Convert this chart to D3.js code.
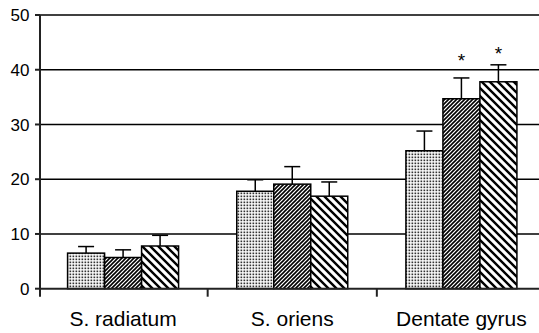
<!DOCTYPE html>
<html>
<head>
<meta charset="utf-8">
<script src="https://cdn.jsdelivr.net/npm/d3@7"></script>
<style>
  html, body { margin: 0; padding: 0; background: #fff; }
  svg { display: block; }
  text { font-family: "Liberation Sans", Arial, sans-serif; fill: #000; }
</style>
</head>
<body>
<svg id="chart" width="539" height="333"></svg>
<script>
// ---- data ----
const categories = ["S. radiatum", "S. oriens", "Dentate gyrus"];
const seriesNames = ["A", "B", "C"];
const seriesValues = [
  [6.5, 17.8, 25.2],   // dotted
  [5.7, 19.1, 34.7],   // fine hatch
  [7.8, 16.9, 37.8]    // wide hatch
];
const seriesErrors = [
  [1.2, 2.1, 3.6],
  [1.4, 3.2, 3.8],
  [1.95, 2.6, 3.1]
];
const yTicks = [0, 10, 20, 30, 40, 50];
// significance markers: category index, series index, label, vertical position (axis units)
const markerCategory = [2, 2];
const markerSeries = [1, 2];
const markerLabels = ["*", "*"];
const markerValues = [42.4, 43.6];

// ---- layout ----
const W = 539, H = 333;
const svg = d3.select("#chart");
const x = d3.scaleBand().domain(categories).range([38.5, 546]).paddingInner(0).paddingOuter(0);
const y = d3.scaleLinear().domain([0, 50]).range([288.7, 15]);
const inner = d3.scaleBand().domain(seriesNames).range([0, 111]);
const groupOffset = (x.bandwidth() - 111) / 2;
const axisX = 40;

// patterns
const defs = svg.append("defs");
const pDots = defs.append("pattern").attr("id", "pDots").attr("patternUnits", "userSpaceOnUse")
  .attr("width", 3).attr("height", 3);
pDots.append("rect").attr("width", 3).attr("height", 3).attr("fill", "#fff");
pDots.append("rect").attr("x", 0.5).attr("y", 0.5).attr("width", 1.7).attr("height", 1.7).attr("fill", "#333");

function hatch(id, p, sw, forward) {
  const pat = defs.append("pattern").attr("id", id).attr("patternUnits", "userSpaceOnUse")
    .attr("width", p).attr("height", p);
  pat.append("rect").attr("width", p).attr("height", p).attr("fill", "#fff");
  const d = forward
    ? `M0,${p} L${p},0 M${-p/2},${p/2} L${p/2},${-p/2} M${p/2},${p*1.5} L${p*1.5},${p/2}`
    : `M0,0 L${p},${p} M${-p/2},${p/2} L${p/2},${p*1.5} M${p/2},${-p/2} L${p*1.5},${p/2}`;
  pat.append("path").attr("d", d).attr("stroke", "#000").attr("stroke-width", sw).attr("fill", "none");
}
hatch("pFine", 4, 1.6, true);
hatch("pWide", 8, 2.4, false);
const fills = ["url(#pDots)", "url(#pFine)", "url(#pWide)"];

// gridlines
svg.append("g").selectAll("line").data(yTicks.filter(t => t > 0)).join("line")
  .attr("x1", axisX).attr("x2", W)
  .attr("y1", d => y(d)).attr("y2", d => y(d))
  .attr("stroke", "#000").attr("stroke-width", 1.5);

// y tick labels and ticks
svg.append("g").selectAll("line").data(yTicks).join("line")
  .attr("x1", axisX - 5).attr("x2", axisX)
  .attr("y1", d => y(d)).attr("y2", d => y(d))
  .attr("stroke", "#222").attr("stroke-width", 2);
svg.append("g").selectAll("text").data(yTicks).join("text")
  .attr("x", 29.5).attr("y", d => y(d)).attr("dy", "0.36em")
  .attr("text-anchor", "end").attr("font-size", 17)
  .text(d => d);

// bars
const barData = [];
seriesValues.forEach((vals, si) => vals.forEach((v, ci) => {
  barData.push({ si, ci, v, e: seriesErrors[si][ci] });
}));
const bx = d => x(categories[d.ci]) + groupOffset + inner(seriesNames[d.si]);

// error bars (upward only)
const eg = svg.append("g");
eg.selectAll("line.v").data(barData).join("line").attr("class", "v")
  .attr("x1", d => bx(d) + inner.bandwidth() / 2).attr("x2", d => bx(d) + inner.bandwidth() / 2)
  .attr("y1", d => y(d.v)).attr("y2", d => y(d.v + d.e))
  .attr("stroke", "#000").attr("stroke-width", 1.5);
eg.selectAll("line.c").data(barData).join("line").attr("class", "c")
  .attr("x1", d => bx(d) + inner.bandwidth() / 2 - 8).attr("x2", d => bx(d) + inner.bandwidth() / 2 + 8)
  .attr("y1", d => y(d.v + d.e)).attr("y2", d => y(d.v + d.e))
  .attr("stroke", "#000").attr("stroke-width", 1.5);

svg.append("g").selectAll("rect").data(barData).join("rect")
  .attr("x", d => bx(d)).attr("width", inner.bandwidth())
  .attr("y", d => y(d.v)).attr("height", d => y(0) - y(d.v))
  .attr("fill", d => fills[d.si])
  .attr("stroke", "#000").attr("stroke-width", 1.5);

// markers
svg.append("g").selectAll("text").data(markerLabels).join("text")
  .attr("x", (d, i) => x(categories[markerCategory[i]]) + groupOffset + inner(seriesNames[markerSeries[i]]) + inner.bandwidth() / 2)
  .attr("y", (d, i) => y(markerValues[i]) + 10)
  .attr("text-anchor", "middle").attr("font-size", 19)
  .text(d => d);

// axes
svg.append("line").attr("x1", axisX).attr("x2", W).attr("y1", y(0)).attr("y2", y(0))
  .attr("stroke", "#222").attr("stroke-width", 2);
svg.append("line").attr("x1", axisX).attr("x2", axisX).attr("y1", y(50)).attr("y2", y(0) + 8)
  .attr("stroke", "#222").attr("stroke-width", 2);
svg.append("g").selectAll("line").data(categories.slice(1)).join("line")
  .attr("x1", d => x(d)).attr("x2", d => x(d))
  .attr("y1", y(0)).attr("y2", y(0) + 8)
  .attr("stroke", "#222").attr("stroke-width", 2);

// category labels
svg.append("g").selectAll("text").data(categories).join("text")
  .attr("x", d => x(d) + x.bandwidth() / 2).attr("y", 326)
  .attr("text-anchor", "middle").attr("font-size", 21)
  .text(d => d);
</script>
</body>
</html>
